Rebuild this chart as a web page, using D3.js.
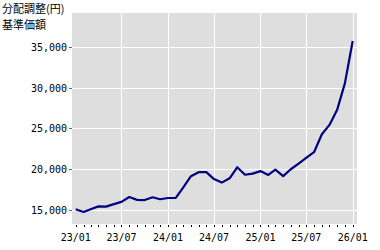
<!DOCTYPE html>
<html>
<head>
<meta charset="utf-8">
<script src="https://cdn.jsdelivr.net/npm/d3@7"></script>
<style>
  body { margin: 0; background: #fff; }
  svg { display: block; }
  .axis text { font-family: "DejaVu Sans Mono", monospace; font-size: 10px; fill: #000; }
</style>
</head>
<body>
<div id="chart"></div>
<script>
// monthly NAV (adjusted for distributions), Jan 2023 .. Jan 2026
const months = [
  "2023-01","2023-02","2023-03","2023-04","2023-05","2023-06","2023-07","2023-08","2023-09","2023-10","2023-11","2023-12",
  "2024-01","2024-02","2024-03","2024-04","2024-05","2024-06","2024-07","2024-08","2024-09","2024-10","2024-11","2024-12",
  "2025-01","2025-02","2025-03","2025-04","2025-05","2025-06","2025-07","2025-08","2025-09","2025-10","2025-11","2025-12",
  "2026-01"
];
const navValues = [
  15150, 14820, 15150, 15500, 15470, 15780, 16050, 16650, 16300, 16280, 16620, 16380,
  16530, 16540, 17800, 19200, 19700, 19700, 18850, 18420, 18950, 20300, 19380, 19520,
  19830, 19360, 20000, 19220, 20060, 20750, 21450, 22150, 24350, 25500, 27400, 30600,
  35800
];
const yTicks = [15000, 20000, 25000, 30000, 35000];
const xTickLabels = ["2023-01","2023-07","2024-01","2024-07","2025-01","2025-07","2026-01"];
const titleLines = ["分配調整(円)", "基準価額"];

const width = 380, height = 250;
const plot = { left: 72, right: 357, top: 13, bottom: 224 };

const parse = d3.utcParse("%Y-%m");
const data = months.map((m, i) => ({ date: parse(m), value: navValues[i] }));

const svg = d3.select("#chart").append("svg")
  .attr("width", width)
  .attr("height", height);

const x = d3.scaleUtc()
  .domain([parse("2023-01"), parse("2026-01")])
  .range([75.7, 352.7]);
const y = d3.scaleLinear()
  .domain([13340, 39230])
  .range([plot.bottom, plot.top]);

// plot background
svg.append("rect")
  .attr("x", plot.left).attr("y", plot.top)
  .attr("width", plot.right - plot.left)
  .attr("height", plot.bottom - plot.top)
  .attr("fill", "#dedede");

// grid
const gx = xTickLabels.slice(1).map(parse);
svg.append("g").selectAll("line").data(gx).enter().append("line")
  .attr("x1", d => Math.round(x(d)) + 0.5).attr("x2", d => Math.round(x(d)) + 0.5)
  .attr("y1", plot.top).attr("y2", plot.bottom)
  .attr("stroke", "#fff").attr("stroke-width", 1);
svg.append("g").selectAll("line").data(yTicks).enter().append("line")
  .attr("x1", plot.left).attr("x2", plot.right)
  .attr("y1", d => Math.floor(y(d)) + 0.5).attr("y2", d => Math.floor(y(d)) + 0.5)
  .attr("stroke", "#fff").attr("stroke-width", 1);

// y axis
const yAxis = svg.append("g")
  .attr("class", "axis")
  .attr("transform", `translate(${plot.left},0)`)
  .call(d3.axisLeft(y).tickValues(yTicks).tickSize(3).tickPadding(2)
    .tickFormat(d3.format(",")));
yAxis.select(".domain").remove();
yAxis.selectAll(".tick line").attr("stroke", "#666");
yAxis.selectAll(".tick").attr("transform", d => `translate(0,${Math.floor(y(d)) + 0.5})`);

// x axis: monthly ticks, labels every 6 months
const monthTicks = d3.utcMonth.range(parse("2023-01"), d3.utcMonth.offset(parse("2026-01"), 1));
svg.append("g").selectAll("line").data(monthTicks).enter().append("line")
  .attr("x1", d => Math.round(x(d)) + 0.5).attr("x2", d => Math.round(x(d)) + 0.5)
  .attr("y1", plot.bottom + 1).attr("y2", plot.bottom + 3)
  .attr("stroke", "#000").attr("stroke-width", 1);
svg.append("g").attr("class", "axis").selectAll("text")
  .data(xTickLabels.map(parse)).enter().append("text")
  .attr("x", d => x(d))
  .attr("y", 241)
  .attr("text-anchor", "middle")
  .text(d3.utcFormat("%y/%m"));

// NAV line
svg.append("path")
  .datum(data)
  .attr("fill", "none")
  .attr("stroke", "#000080")
  .attr("stroke-width", 2.2)
  .attr("stroke-linejoin", "round")
  .attr("d", d3.line().x(d => x(d.date)).y(d => y(d.value)));

// title
svg.append("g").selectAll("text").data(titleLines).enter().append("text")
  .attr("x", 2)
  .attr("y", (d, i) => 13 + i * 16)
  .attr("font-family", "'Noto Sans CJK JP', sans-serif")
  .attr("font-size", 11)
  .attr("fill", "#000")
  .text(d => d);
</script>
</body>
</html>
